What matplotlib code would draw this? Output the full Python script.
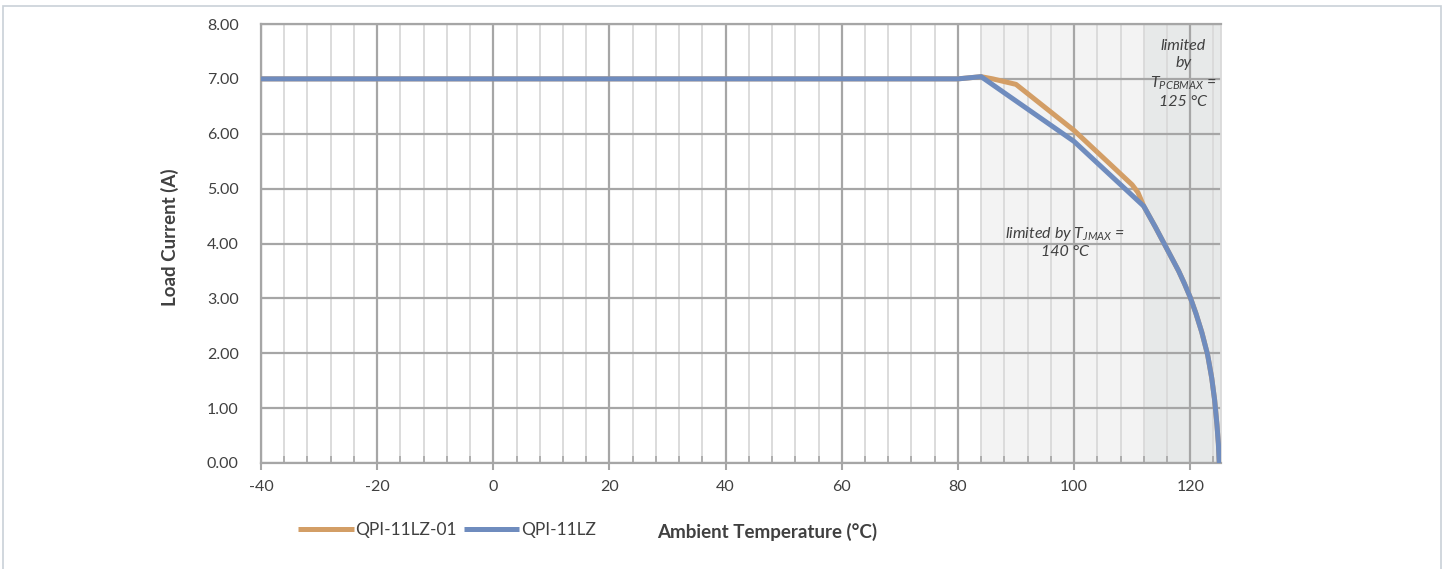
import matplotlib
matplotlib.use("Agg")
import matplotlib.pyplot as plt
from matplotlib.patches import Rectangle
import numpy as np

plt.rcParams['font.family'] = ['Lato', 'DejaVu Sans']
plt.rcParams['mathtext.fontset'] = 'custom'
plt.rcParams['mathtext.it'] = 'Lato:italic'
plt.rcParams['mathtext.rm'] = 'Lato:italic'

# ---- data ----
temp_01 = [-40, 80, 84, 86, 90, 100, 110, 111, 112, 114, 116, 118, 119, 120, 121, 122, 123, 123.7, 124.2, 124.6, 124.85, 125]
cur_01 = [7.0, 7.0, 7.04, 7.0, 6.9, 6.06, 5.07, 4.93, 4.68, 4.3, 3.9, 3.5, 3.27, 3.02, 2.72, 2.38, 1.97, 1.55, 1.15, 0.7, 0.35, 0.0]
temp_lz = [-40, 80, 84, 100, 112, 114, 116, 118, 119, 120, 121, 122, 123, 123.7, 124.2, 124.6, 124.85, 125]
cur_lz = [7.0, 7.0, 7.04, 5.86, 4.68, 4.3, 3.9, 3.5, 3.27, 3.02, 2.72, 2.38, 1.97, 1.55, 1.15, 0.7, 0.35, 0.0]
series_names = ["QPI-11LZ-01", "QPI-11LZ"]
x_ticks = [-40, -20, 0, 20, 40, 60, 80, 100, 120]
y_ticks = [0, 1, 2, 3, 4, 5, 6, 7, 8]
region_light = (84, 112)
region_dark = (112, 125.3)

orange = "#D39E66"
blue = "#6F8CBE"
txt = "#404040"
major_grid = "#A6A6A6"
minor_grid = "#D9D9D9"

W, H = 1445, 569
fig = plt.figure(figsize=(W / 100, H / 100), dpi=100)
ax = fig.add_axes([261 / W, 1 - 463 / H, 960 / W, 439 / H])

ax.set_xlim(-40, 125.3)
ax.set_ylim(0, 8)

ax.axvspan(*region_light, color="#F3F3F3", zorder=0, lw=0)
ax.axvspan(*region_dark, color="#E7E9E9", zorder=0, lw=0)

ax.set_xticks(x_ticks)
ax.set_xticks(np.arange(-40, 125, 4), minor=True)
ax.set_yticks(y_ticks)
ax.set_xticklabels([str(t) for t in x_ticks])
ax.set_yticklabels([f"{v:.2f}" for v in y_ticks])

ax.grid(which="major", axis="both", color=major_grid, lw=1.6, zorder=1)
ax.grid(which="minor", axis="x", color=minor_grid, lw=1.3, zorder=0.5)
ax.set_axisbelow(True)

ax.tick_params(axis="x", which="major", direction="out", length=5, width=1.5, color=major_grid,
               labelsize=11.5, labelcolor=txt, pad=7)
ax.tick_params(axis="x", which="minor", direction="in", length=5, width=1.2, color=major_grid)
ax.tick_params(axis="y", which="both", length=0, labelsize=11.5, labelcolor=txt, pad=16)

for s in ["left", "bottom", "top"]:
    ax.spines[s].set_color(major_grid)
    ax.spines[s].set_linewidth(1.6)
ax.spines["right"].set_color(minor_grid)
ax.spines["right"].set_linewidth(1.3)

l1, = ax.plot(temp_01, cur_01, color=orange, lw=3.6, solid_capstyle="butt", zorder=3)
l2, = ax.plot(temp_lz, cur_lz, color=blue, lw=3.6, solid_capstyle="butt", zorder=4)

ax.set_ylabel("Load Current (A)", fontsize=13.5, fontweight="bold", color=txt)
ax.yaxis.set_label_coords((170 - 261) / 960, (463 - 237) / 439)
ax.set_xlabel("Ambient Temperature (°C)", fontsize=13.5, fontweight="bold", color=txt)
ax.xaxis.set_label_coords((767 - 261) / 960, (463 - 532) / 439)
ax.xaxis.label.set_va("center")
ax.yaxis.label.set_va("center")

ax.text(118.8, 7.09, "limited\nby\n$T_{PCBMAX}$ =\n125 °C", ha="center", va="center",
        fontsize=11.5, style="italic", color=txt, linespacing=1.3, zorder=5)
ax.text(98.5, 4.03, "limited by $T_{JMAX}$ =\n140 °C", ha="center", va="center",
        fontsize=11.5, style="italic", color=txt, linespacing=1.15, zorder=5)

fig.legend([l1, l2], series_names, loc="center left", bbox_to_anchor=(298 / W, 1 - 530 / H),
           ncol=2, frameon=False, handlelength=3.2, handletextpad=0.1, columnspacing=0.4,
           fontsize=12.5, labelcolor=txt, borderaxespad=0, borderpad=0)

fig.patches.append(Rectangle((2.5 / W, -0.05), (1441 - 2.5) / W, 1 - 5.5 / H + 0.05,
                             transform=fig.transFigure, fill=False, edgecolor="#C9D1D8", lw=1.2))

fig.savefig("out.png", dpi=100)
